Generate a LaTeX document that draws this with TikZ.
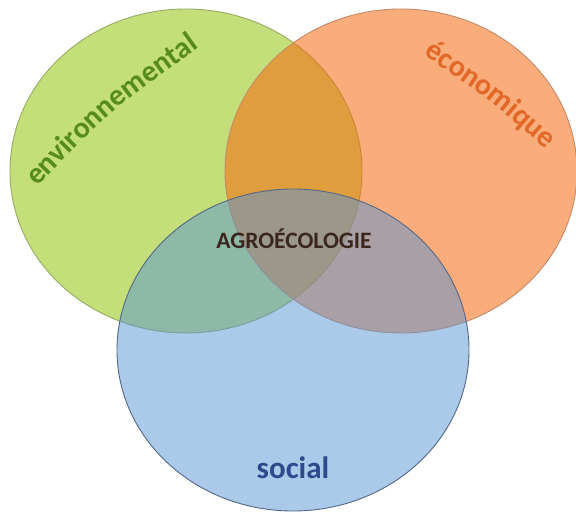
\documentclass[tikz,border=0pt]{standalone}
\usepackage{fontspec}
\setmainfont{Carlito}
\usetikzlibrary{shapes.geometric,decorations.text}
\definecolor{envfill}{RGB}{196,222,122}
\definecolor{envline}{RGB}{150,172,100}
\definecolor{envtxt}{RGB}{86,140,28}
\definecolor{ecofill}{RGB}{247,104,13}
\definecolor{ecoline}{RGB}{196,138,104}
\definecolor{ecotxt}{RGB}{226,104,40}
\definecolor{socfill}{RGB}{89,149,213}
\definecolor{socline}{RGB}{84,104,134}
\definecolor{soctxt}{RGB}{46,74,140}
\definecolor{agrotxt}{RGB}{58,38,30}
\tikzset{
  pole/.style ={ellipse,draw,line width=0.9pt,inner sep=0pt,
                minimum width=352pt,minimum height=324pt},
  pname/.style={font=\lblfont,anchor=base},
  arc/.style  ={decorate,decoration={text along path,text align=left}},
}
\newcommand{\lblfont}{\fontsize{30}{36}\selectfont\bfseries}

\begin{document}
\begin{tikzpicture}[x=1pt,y=1pt]
\useasboundingbox[fill=white] (0,-513) rectangle (576,0);
\node[pole,fill=envfill,draw=envline] (ENV) at (186,-171) {};
\node[pole,fill=ecofill,fill opacity=0.55,draw=ecoline] (ECO) at (401,-171) {};
\node[pole,fill=socfill,fill opacity=0.5,draw=socline,minimum height=322pt] (SOC) at (293,-350) {};
\node[font=\fontsize{23.5}{26}\selectfont\bfseries,text=agrotxt,anchor=base] (AGRO) at (294,-249) {AGROÉCOLOGIE};
\node[pname,text=soctxt,font=\fontsize{31}{36}\selectfont\bfseries] (SOCL) at (293,-478) {social};
\path[arc,decoration={text={|\lblfont\color{envtxt}|environnemental}}]
  (37,-187) .. controls (112,-110) .. (200,-47);
\path[arc,decoration={text={|\lblfont\color{ecotxt}|économique}}]
  (423,-55) .. controls (488,-98) .. (549,-152);
\end{tikzpicture}
\end{document}
